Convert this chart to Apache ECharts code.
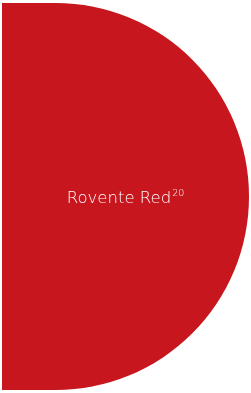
<!DOCTYPE html>
<html><head><meta charset="utf-8">
<script src="https://cdn.jsdelivr.net/npm/echarts@6/dist/echarts.min.js"></script>
<style>html,body{margin:0;padding:0;background:#fff}#c{width:251px;height:393px}</style>
</head><body><div id="c"></div>
<script>
const categories = ['Rovente Red'];
const values = [20];
const chart = echarts.init(document.getElementById('c'), null, {renderer:'canvas'});
chart.setOption({
  animation:false,
  grid:{left:2,right:2,top:3,bottom:3},
  xAxis:{type:'value',min:0,max:values[0],show:false},
  yAxis:{type:'category',data:categories,axisLabel:{show:false},axisTick:{show:false},
    axisLine:{show:true,lineStyle:{color:'#e8a0a4',width:1}}},
  series:[{type:'bar',data:values,barWidth:'100%',
    itemStyle:{color:'#C8161E',borderRadius:[0,194,194,0]},
    label:{show:true,position:'inside',offset:[0,2],
      formatter:p=>'{a|'+p.name+'}{b|'+p.value+'}',
      rich:{a:{color:'#fff',fontSize:16.5,fontFamily:'DejaVu Sans',fontWeight:200},
            b:{color:'#fff',fontSize:9.5,fontFamily:'DejaVu Sans',fontWeight:200,verticalAlign:'top',padding:[0,0,9,1]}}}
  }]
});
</script></body></html>
